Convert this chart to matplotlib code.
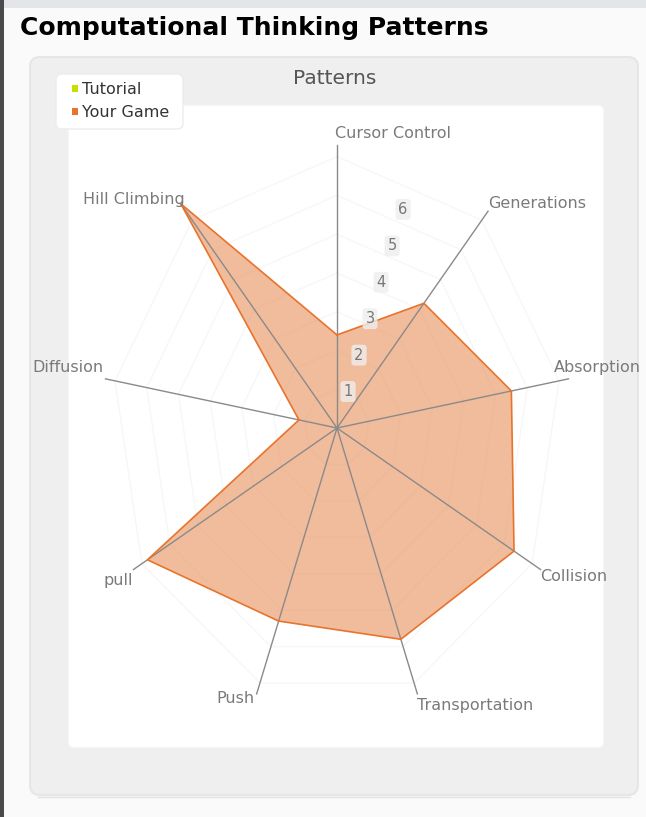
import numpy as np
import matplotlib
matplotlib.use("Agg")
import matplotlib.pyplot as plt
from matplotlib.patches import FancyBboxPatch, Rectangle

# data
patterns = ["Cursor Control", "Generations", "Absorption", "Collision",
            "Transportation", "Push", "pull", "Diffusion", "Hill Climbing"]
your_game = [2.4, 4.2, 5.5, 6.35, 5.8, 5.3, 6.8, 1.2, 7.55]
tutorial = [0, 0, 0, 0, 0, 0, 0, 0, 0]
tick_values = [1, 2, 3, 4, 5, 6]
r_max = 7.3

# label offsets in pixels (dx, dy) from the spoke end, and alignment
label_style = {
    "Cursor Control": (-2, 12, "left"),
    "Generations": (0, 8, "left"),
    "Absorption": (-15, 11, "left"),
    "Collision": (0, -7, "left"),
    "Transportation": (0, -12, "left"),
    "Push": (-2, -5, "right"),
    "pull": (0, -11, "right"),
    "Diffusion": (-2, 11, "right"),
    "Hill Climbing": (4, 4, "right"),
}

W, H = 646, 817
fig = plt.figure(figsize=(W / 100, H / 100), dpi=100)
fig.patch.set_facecolor("#fafafb")

# background decoration in pixel coords
bg = fig.add_axes([0, 0, 1, 1])
bg.set_xlim(0, W)
bg.set_ylim(H, 0)
bg.axis("off")
bg.add_patch(Rectangle((0, 0), W, 8, color="#e4e5e9", lw=0))
bg.add_patch(Rectangle((0, 0), 4, H, color="#4a4a4a", lw=0))
bg.add_patch(FancyBboxPatch((30, 57), 608, 738, boxstyle="round,pad=0,rounding_size=10",
                            fc="#efefef", ec="#e6e6e6", lw=1.5))
bg.add_patch(FancyBboxPatch((68, 105), 536, 643, boxstyle="round,pad=0,rounding_size=6",
                            fc="white", ec="#f2f2f2", lw=1))
bg.plot([38, 630], [797, 797], color="#e2e2e2", lw=1)
bg.add_patch(FancyBboxPatch((56, 74), 127, 55, boxstyle="round,pad=0,rounding_size=6",
                            fc="white", ec="#ececec", lw=1))
bg.text(20, 28, "Computational Thinking Patterns", fontsize=18, fontweight="bold",
        color="black", va="center", ha="left")
bg.text(335, 78, "Patterns", fontsize=14.5, color="#555555", va="center", ha="center")

# legend by hand
bg.add_patch(Rectangle((72, 85), 6, 7, color="#c8e000", lw=0))
bg.text(82, 89, "Tutorial", fontsize=11.5, color="#333333", va="center")
bg.add_patch(Rectangle((72, 108), 6, 7, color="#e8732c", lw=0))
bg.text(82, 112, "Your Game", fontsize=11.5, color="#333333", va="center")

# radar (squashed horizontally, as in the reference)
cx, cy, rx, ry = 337, 428, 235, 283
ax = fig.add_axes([(cx - rx) / W, (H - cy - ry) / H, 2 * rx / W, 2 * ry / H],
                  projection="polar")
ax.set_aspect("auto")
ax.set_theta_zero_location("N")
ax.set_theta_direction(-1)
ax.set_ylim(0, r_max)
ax.set_xticks([])
ax.set_yticks([])
ax.grid(False)
ax.spines["polar"].set_visible(False)
ax.patch.set_alpha(0)

n = len(patterns)
angles = np.arange(n) * 2 * np.pi / n
closed = np.append(angles, angles[0])

# faint polygon gridlines
for t in range(1, 8):
    ax.plot(closed, [t] * (n + 1), color="#f7f7f7", lw=1, zorder=1, clip_on=False)

vals = np.append(your_game, your_game[0])
ax.fill(closed, vals, color="#eb9c6c", alpha=0.68, lw=0, zorder=2, clip_on=False)
ax.plot(closed, vals, color="#e8732c", lw=1.2, zorder=4, clip_on=False)
ax.plot(closed, np.append(tutorial, tutorial[0]), color="#c8e000", lw=1, zorder=4)

for a, name, v in zip(angles, patterns, your_game):
    ax.plot([a, a], [0, max(r_max, v)], color="#8a8a8a", lw=1, zorder=3, clip_on=False)
    dx, dy, ha = label_style[name]
    ax.annotate(name, xy=(a, max(r_max, v)), xytext=(dx, dy), textcoords="offset pixels",
                ha=ha, va="center", fontsize=11.5, color="#7a7a7a", zorder=5,
                annotation_clip=False)

tick_angle = np.deg2rad(20)
for t in tick_values:
    ax.text(tick_angle, t, str(t), ha="center", va="center", fontsize=10.5,
            color="#777777", zorder=5,
            bbox=dict(boxstyle="round,pad=0.2", fc="#eeeeee", ec="none", alpha=0.8))

fig.savefig("out.png", dpi=100)
